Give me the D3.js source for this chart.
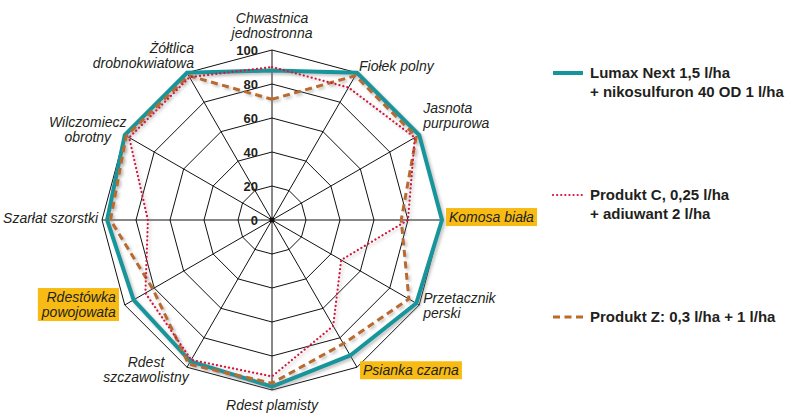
<!DOCTYPE html>
<html>
<head>
<meta charset="utf-8">
<script src="https://cdn.jsdelivr.net/npm/d3@7"></script>
<style>
  html, body { margin: 0; padding: 0; background: #fff; }
  svg { display: block; }
  text { font-family: "Liberation Sans", Arial, Helvetica, sans-serif; fill: #231f20; }
</style>
</head>
<body>
<svg id="chart" width="796" height="419"></svg>
<script>
// ---- data ----
const categories = [
  "Chwastnica\njednostronna", "Fiołek polny", "Jasnota\npurpurowa", "Komosa biała",
  "Przetacznik\nperski", "Psianka czarna", "Rdest plamisty", "Rdest\nszczawolistny",
  "Rdestówka\npowojowata", "Szarłat szorstki", "Wilczomiecz\nobrotny", "Żółtlica\ndrobnokwiatowa"
];
const highlighted = ["Komosa biała", "Psianka czarna", "Rdestówka\npowojowata"];
const lumax    = [88, 100, 100, 100, 98, 92, 98, 96, 94, 97, 100, 100];
const produktC = [90, 90, 97, 80, 47, 72, 92, 95, 86, 73, 97, 97];
const produktZ = [71, 98, 98, 76, 93, 84, 96, 98, 81, 95, 99, 98];
const tickValues = [0, 20, 40, 60, 80, 100];
const seriesNames = [
  ["Lumax Next 1,5 l/ha", "+ nikosulfuron 40 OD 1 l/ha"],
  ["Produkt C, 0,25 l/ha", "+ adiuwant 2 l/ha"],
  ["Produkt Z: 0,3 l/ha + 1 l/ha"]
];

// ---- layout ----
const cx = 272, cy = 220, R = 170;
const svg = d3.select("#chart");
const r = d3.scaleLinear().domain([0, 100]).range([0, R]);
const n = categories.length;
const angle = d3.scaleLinear().domain([0, n]).range([0, 2 * Math.PI]);
const pt = (i, v) => [cx + r(v) * Math.sin(angle(i)), cy - r(v) * Math.cos(angle(i))];

// label placement relative to outer vertex: anchor, dx, dy (centre of first line)
const labelLayout = [
  { a: "middle", dx: 0, dy: -32 },
  { a: "start", dx: 2, dy: -7 },
  { a: "start", dx: 4, dy: -27 },
  { a: "start", dx: 7, dy: -3 },
  { a: "start", dx: 4, dy: -7 },
  { a: "start", dx: 6, dy: 3 },
  { a: "middle", dx: 0, dy: 15 },
  { a: "middle", dx: -41, dy: -5 },
  { a: "end", dx: -9, dy: -8 },
  { a: "end", dx: -4, dy: -2 },
  { a: "middle", dx: -37, dy: -13 },
  { a: "end", dx: 7, dy: -25 }
];
const lineGap = 15;

const defs = svg.append("defs");
const f = defs.append("filter").attr("id", "shadow")
  .attr("x", "-10%").attr("y", "-10%").attr("width", "120%").attr("height", "120%");
f.append("feDropShadow").attr("dx", 2).attr("dy", 2).attr("stdDeviation", 1.5)
  .attr("flood-color", "#7a7a7a").attr("flood-opacity", 0.45);

const g = svg.append("g");

// grid rings
const ringLine = d3.lineRadial().curve(d3.curveLinearClosed)
  .angle((d, i) => angle(i)).radius(d => r(d));
g.append("g").attr("transform", `translate(${cx},${cy})`)
  .selectAll("path").data(tickValues.filter(t => t > 0)).join("path")
  .attr("d", t => ringLine(categories.map(() => t)))
  .attr("fill", "none").attr("stroke", "#111").attr("stroke-width", 1);

// spokes
g.append("g").selectAll("line").data(categories).join("line")
  .attr("x1", cx).attr("y1", cy)
  .attr("x2", (d, i) => pt(i, 100)[0]).attr("y2", (d, i) => pt(i, 100)[1])
  .attr("stroke", "#111").attr("stroke-width", 1);

g.append("circle").attr("cx", cx).attr("cy", cy).attr("r", 2.5).attr("fill", "#111");

// tick labels
g.append("g").selectAll("text").data(tickValues).join("text")
  .attr("x", cx - 14).attr("y", t => cy - r(t))
  .attr("dy", "0.36em")
  .attr("text-anchor", "end")
  .attr("font-size", 13).attr("font-weight", "bold")
  .text(t => t);

// series
const series = [
  { values: lumax, color: "#16959b", width: 4, dash: null, cap: "butt" },
  { values: produktZ, color: "#b96a2d", width: 3, dash: "7,4.5", cap: "butt" },
  { values: produktC, color: "#d3163e", width: 2.2, dash: "0.1,4", cap: "round" }
];
const seriesLine = d3.lineRadial().curve(d3.curveLinearClosed)
  .angle((d, i) => angle(i)).radius(d => r(d));
const sg = g.append("g").attr("transform", `translate(${cx},${cy})`);
sg.selectAll("path").data(series).join("path")
  .attr("d", s => seriesLine(s.values))
  .attr("fill", "none")
  .attr("stroke", s => s.color)
  .attr("stroke-width", s => s.width)
  .attr("stroke-dasharray", s => s.dash)
  .attr("stroke-linecap", s => s.cap)
  .attr("stroke-linejoin", "miter")
  .attr("filter", "url(#shadow)");

// category labels
const lg = g.append("g");
categories.forEach((c, i) => {
  const [ox, oy] = pt(i, 100);
  const L = labelLayout[i];
  const grp = lg.append("g");
  const bgRect = grp.append("rect");
  const t = grp.append("text")
    .attr("text-anchor", L.a)
    .attr("font-size", 14).attr("font-style", "italic");
  c.split("\n").forEach((line, k) => {
    t.append("tspan").attr("x", ox + L.dx).attr("y", oy + L.dy + k * lineGap)
      .attr("dy", "0.36em").text(line);
  });
  if (highlighted.includes(c)) {
    const bb = t.node().getBBox();
    bgRect.attr("x", bb.x - 3).attr("y", bb.y - 1)
      .attr("width", bb.width + 6).attr("height", bb.height + 2)
      .attr("fill", "#f8bb14");
  } else {
    bgRect.remove();
  }
});

// legend
const legendY = [73, 195, 317];
const legend = svg.append("g");
const legendStyles = [series[0], series[2], series[1]];
seriesNames.forEach((lines, k) => {
  const s = legendStyles[k];
  const y = legendY[k];
  legend.append("line")
    .attr("x1", 553).attr("x2", 583).attr("y1", y).attr("y2", y)
    .attr("stroke", s.color).attr("stroke-width", s.width)
    .attr("stroke-dasharray", s.dash).attr("stroke-linecap", s.cap);
  const t = legend.append("text").attr("font-size", 15).attr("font-weight", "bold");
  lines.forEach((line, j) => {
    t.append("tspan").attr("x", 590).attr("y", y + j * 18.5).attr("dy", "0.36em").text(line);
  });
});
</script>
</body>
</html>
